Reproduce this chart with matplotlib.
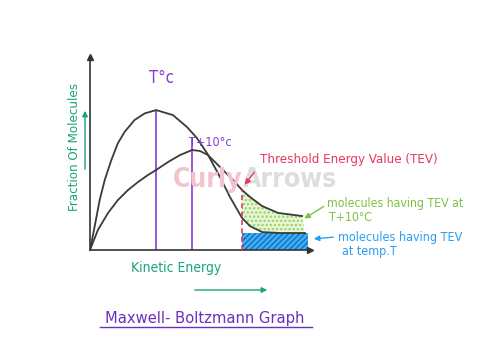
import numpy as np
import matplotlib
matplotlib.use("Agg")
import matplotlib.pyplot as plt
from matplotlib.patches import FancyArrowPatch

# values (arbitrary units)
ke_cold = np.array([0, 0.21, 0.44, 0.67, 0.97, 1.27, 1.58, 2.03, 2.49, 3.01, 3.77, 4.41, 4.86,
                    5.32, 5.91, 6.36, 6.91, 7.27, 7.82, 8.64, 9.77])
frac_cold = np.array([0, 1.21, 2.59, 3.63, 4.66, 5.54, 6.13, 6.74, 7.08, 7.25, 6.99, 6.37, 5.80,
                      5.02, 3.78, 2.75, 1.66, 1.24, 0.93, 0.88, 0.88])

ke_hot = np.array([0, 0.36, 0.82, 1.27, 1.73, 2.18, 2.64, 3.01, 3.55, 4.09, 4.64, 5.0, 5.36,
                   5.91, 6.5, 6.91, 7.27, 7.82, 8.55, 9.64])
frac_hot = np.array([0, 1.04, 1.92, 2.59, 3.11, 3.52, 3.89, 4.15, 4.56, 4.92, 5.18, 5.13, 4.92,
                     4.30, 3.63, 3.11, 2.75, 2.28, 1.92, 1.76])

threshold = 6.91
box_end = 9.9

plt.rcParams['font.family'] = ['DejaVu Sans']
plt.rcParams['font.stretch'] = 'condensed'
plt.rcParams['hatch.linewidth'] = 1.2

purple = '#8a3ad6'
red = '#e8365d'
green = '#7cc242'
blue = '#2a9df4'
teal = '#1aa380'


def fx(px):
    return px / 480


def fy(py):
    return 1 - py / 360


def arrow(p0, p1, color):
    fig.patches.append(FancyArrowPatch((fx(p0[0]), fy(p0[1])), (fx(p1[0]), fy(p1[1])),
                                       transform=fig.transFigure, arrowstyle='-|>',
                                       mutation_scale=8, color=color, lw=1))


fig = plt.figure(figsize=(4.8, 3.6), dpi=100)
fig.patch.set_facecolor('white')
ax = fig.add_axes([fx(90), fy(250), 220/480, 193/360])
ax.set_xlim(0, 10)
ax.set_ylim(0, 10)

# watermark
fig.text(fx(243), fy(180), 'Curly', color='#f2c2ce', fontsize=19, fontweight='bold',
         ha='right', va='center', zorder=0)
fig.text(fx(243), fy(180), 'Arrows', color='#dddddd', fontsize=19, fontweight='bold',
         ha='left', va='center', zorder=0)

# shaded tails
m_hot = ke_hot >= threshold
m_cold = ke_cold >= threshold
poly_x = np.concatenate([ke_hot[m_hot], ke_cold[m_cold][::-1]])
poly_y = np.concatenate([frac_hot[m_hot], frac_cold[m_cold][::-1]])
ax.fill(poly_x, poly_y, facecolor='#eaf6dc', edgecolor='#97d35c', hatch='....', linewidth=0, zorder=1)
ax.fill_between([threshold, box_end], 0, frac_cold[-1], facecolor='#3bb8ea',
                edgecolor='#1f6fd6', hatch='//////', linewidth=0, zorder=1)

# curves
ax.plot(ke_cold, frac_cold, color='#3a3a3a', lw=1.3, zorder=3)
ax.plot(ke_hot, frac_hot, color='#3a3a3a', lw=1.3, zorder=3)

# peak lines
i = np.argmax(frac_cold)
ax.vlines(ke_cold[i], 0, frac_cold[i], color=purple, lw=1.2, zorder=2)
j = np.argmax(frac_hot)
ax.vlines(ke_hot[j], 0, frac_hot[j] + 0.6, color=purple, lw=1.2, zorder=2)

# threshold line
ax.vlines(threshold, 0, frac_hot[m_hot][0], color=red, lw=1.2, linestyles=(0, (3, 2)), zorder=4)

# axes with arrows
for s in ['top', 'right']:
    ax.spines[s].set_visible(False)
for s in ['left', 'bottom']:
    ax.spines[s].set_color('#333333')
    ax.spines[s].set_linewidth(1.2)
ax.set_xticks([])
ax.set_yticks([])
ax.set_facecolor('none')
ax.plot(1, 0, '>', color='#333333', ms=5, transform=ax.transAxes, clip_on=False)
ax.plot(0, 1, '^', color='#333333', ms=5, transform=ax.transAxes, clip_on=False)

# labels on the curves
fig.text(fx(161), fy(78), 'T°c', color=purple, fontsize=12, ha='center', va='center')
fig.text(fx(189), fy(143), 'T+10°c', color=purple, fontsize=9, ha='left', va='center')

# annotations
fig.text(fx(260), fy(160), 'Threshold Energy Value (TEV)', color=red, fontsize=9.5, va='center')
arrow((256, 170), (243, 187), red)

fig.text(fx(327), fy(203), 'molecules having TEV at', color=green, fontsize=8.8, va='center')
fig.text(fx(329), fy(218), 'T+10°C', color=green, fontsize=8.8, va='center')
arrow((326, 205), (302, 220), green)

fig.text(fx(338), fy(237), 'molecules having TEV', color=blue, fontsize=9, va='center')
fig.text(fx(342), fy(251), 'at temp.T', color=blue, fontsize=9, va='center')
arrow((336, 237), (311, 239), blue)

# axis titles
fig.text(fx(176), fy(268), 'Kinetic Energy', color=teal, fontsize=10, ha='center', va='center')
arrow((192, 290), (270, 290), teal)

fig.text(fx(75), fy(147), 'Fraction Of Molecules', color=teal, fontsize=9.5,
         rotation=90, ha='center', va='center')
arrow((85, 172), (85, 108), teal)

# title with underline
fig.text(fx(205), fy(318), 'Maxwell- Boltzmann Graph', color='#6a2fc0', fontsize=11.8,
         ha='center', va='center')
fig.add_artist(plt.Line2D([fx(100), fx(312)], [fy(327), fy(327)], color='#6a2fc0', lw=1))

fig.savefig('out.png', dpi=100, facecolor='white')
